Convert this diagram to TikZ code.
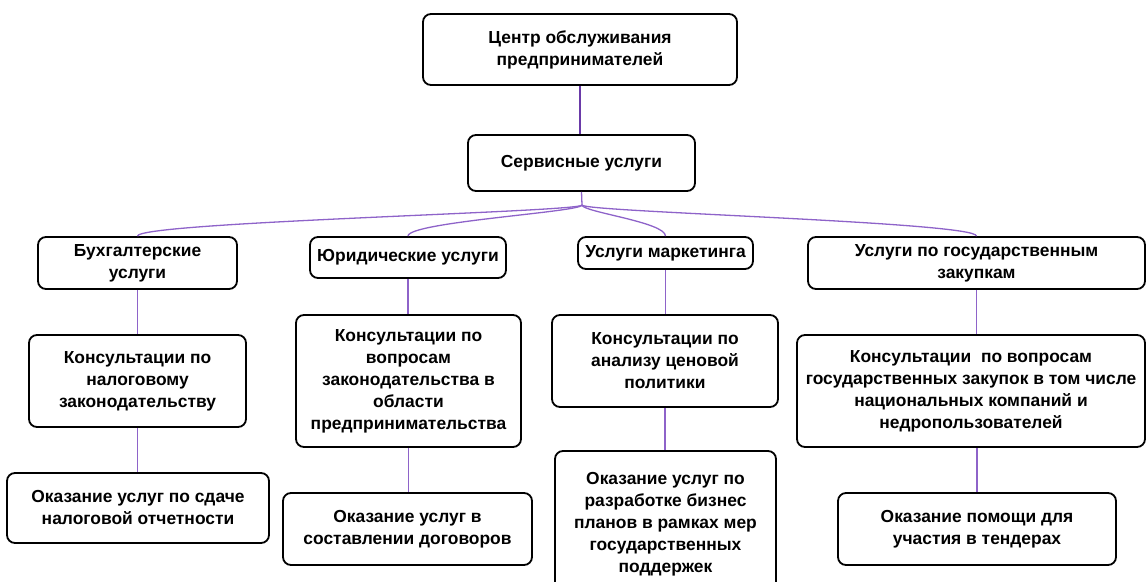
\documentclass[tikz,border=0pt]{standalone}
\usepackage{fontspec}
\setmainfont{Liberation Sans}
\newfontfamily\boxfont{Liberation Sans Bold}
\definecolor{linkdark}{HTML}{6A3AA8}
\definecolor{linklight}{HTML}{8E63C9}
\begin{document}
\begin{tikzpicture}[x=1pt,y=-1pt,
  box/.style={draw=black, line width=1.8pt, rounded corners=8pt, fill=white,
    align=center, inner sep=0pt, font=\boxfont\fontsize{17.4}{22}\selectfont},
  link/.style={draw=linklight, line width=1.3pt},
  toplink/.style={draw=linkdark, line width=1.8pt}]
\useasboundingbox (0,0) rectangle (1147,581);
\begin{scope}
\clip (0,0) rectangle (1147,581);
% nodes
\node[box, minimum width=314pt, minimum height=71pt] (top) at (580,49.5) {Центр обслуживания\\предпринимателей};
\node[box, minimum width=227pt, minimum height=56pt] (serv) at (581.5,163) {Сервисные услуги};
\node[box, minimum width=199pt, minimum height=52pt] (b1) at (137.5,263) {Бухгалтерские\\услуги};
\node[box, minimum width=196pt, minimum height=41pt] (b2) at (408,257.5) {Юридические услуги};
\node[box, minimum width=175pt, minimum height=32pt] (b3) at (665.5,253) {Услуги маркетинга};
\node[box, minimum width=337pt, minimum height=52pt] (b4) at (976.5,263) {Услуги по государственным\\закупкам};
\node[box, minimum width=217pt, minimum height=92pt] (c1) at (137.5,381) {Консультации по\\налоговому\\законодательству};
\node[box, minimum width=225pt, minimum height=132pt] (c2) at (408.5,381) {Консультации по\\вопросам\\законодательства в\\области\\предпринимательства};
\node[box, minimum width=226pt, minimum height=92pt] (c3) at (665,361) {Консультации по\\анализу ценовой\\политики};
\node[box, minimum width=348pt, minimum height=112pt] (c4) at (971,391) {Консультации\ \ по вопросам\\государственных закупок в том числе\\национальных компаний и\\недропользователей};
\node[box, minimum width=262pt, minimum height=70pt] (d1) at (138,508) {Оказание услуг по сдаче\\налоговой отчетности};
\node[box, minimum width=249pt, minimum height=72pt] (d2) at (407.5,529) {Оказание услуг в\\составлении договоров};
\node[box, minimum width=221pt, minimum height=146pt] (d3) at (665.5,524) {Оказание услуг по\\разработке бизнес\\планов в рамках мер\\государственных\\поддержек};
\node[box, minimum width=278pt, minimum height=72pt] (d4) at (977,529) {Оказание помощи для\\участия в тендерах};
% connectors
\coordinate (hub) at (582,205);
\draw[toplink] (top.south) -- (top.south |- serv.north);
\draw[link] (serv.south) -- (hub);
\draw[link] (hub) .. controls (582,212) and (138,222) .. (b1.north);
\draw[link] (hub) .. controls (582,212) and (408,222) .. (b2.north);
\draw[link] (hub) .. controls (582,212) and (665.5,222) .. (b3.north);
\draw[link] (hub) .. controls (582,212) and (976.5,222) .. (b4.north);
\draw[link] (b1.south) -- (b1.south |- c1.north);
\draw[link] (b2.south) -- (b2.south |- c2.north);
\draw[link] (b3.south) -- (b3.south |- c3.north);
\draw[link] (b4.south) -- (b4.south |- c4.north);
\draw[link] (c1.south) -- (c1.south |- d1.north);
\draw[link] (c2.south) -- (c2.south |- d2.north);
\draw[link] (c3.south) -- (c3.south |- d3.north);
\draw[link] (d4.north |- c4.south) -- (d4.north);
\end{scope}
\end{tikzpicture}
\end{document}
